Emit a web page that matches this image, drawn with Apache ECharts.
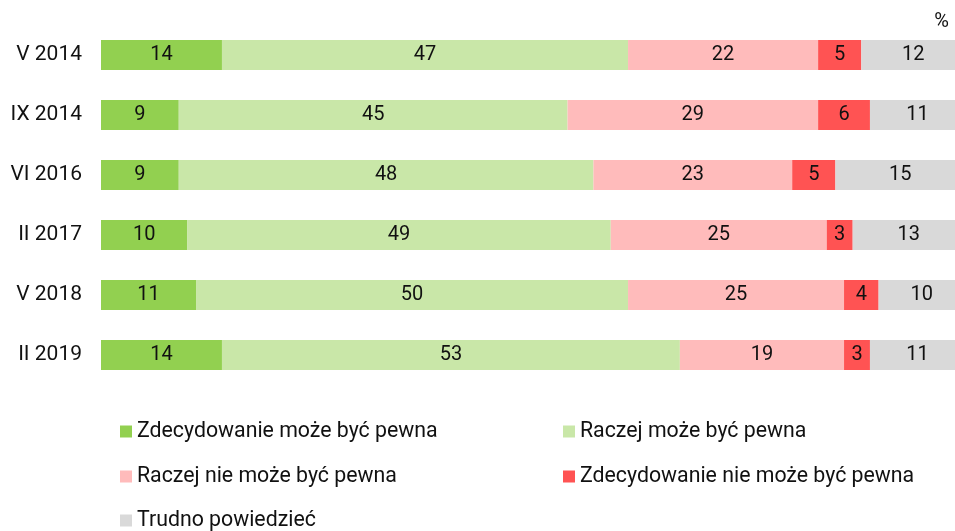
<!DOCTYPE html>
<html>
<head>
<meta charset="utf-8">
<script src="https://cdn.jsdelivr.net/npm/echarts@6/dist/echarts.min.js"></script>
<style>html,body{margin:0;padding:0;background:#fff}#c{width:955px;height:531px}</style>
</head>
<body>
<div id="c"></div>
<script>
var categories = ['V 2014', 'IX 2014', 'VI 2016', 'II 2017', 'V 2018', 'II 2019'];
var seriesNames = ['Zdecydowanie może być pewna', 'Raczej może być pewna', 'Raczej nie może być pewna', 'Zdecydowanie nie może być pewna', 'Trudno powiedzieć'];
var zdecMoze = [14, 9, 9, 10, 11, 14];
var raczejMoze = [47, 45, 48, 49, 50, 53];
var raczejNie = [22, 29, 23, 25, 25, 19];
var zdecNie = [5, 6, 5, 3, 4, 3];
var trudno = [12, 11, 15, 13, 10, 11];
var colors = ['#92D050', '#C9E7A8', '#FFBBBB', '#FF5353', '#D9D9D9'];
var values = [zdecMoze, raczejMoze, raczejNie, zdecNie, trudno];

var chart = echarts.init(document.getElementById('c'));
var font = 'Roboto';
var series = values.map(function (v, i) {
  return {
    name: seriesNames[i],
    type: 'bar',
    stack: 'total',
    barWidth: 30,
    data: v,
    itemStyle: { color: colors[i] },
    label: { show: true, position: 'inside', color: '#111', fontSize: 20, fontFamily: font },
    emphasis: { disabled: true }
  };
});
var legendPos = [
  { left: 120, top: 421 },
  { left: 563, top: 421 },
  { left: 120, top: 466 },
  { left: 563, top: 466 },
  { left: 120, top: 510 }
];
var legends = seriesNames.map(function (n, i) {
  return {
    data: [n],
    left: legendPos[i].left,
    top: legendPos[i].top,
    padding: 0,
    itemWidth: 12,
    itemHeight: 12,
    itemGap: 0,
    icon: 'rect',
    selectedMode: false,
    textStyle: { fontSize: 21.3, fontFamily: font, color: '#111', padding: [0, 0, 0, 0] }
  };
});
chart.setOption({
  animation: false,
  color: colors,
  grid: { left: 101, width: 864, top: 25, height: 360, outerBoundsMode: 'none', containLabel: false },
  legend: legends,
  xAxis: { type: 'value', min: 0, max: 100, show: false },
  yAxis: {
    type: 'category', data: categories, inverse: true,
    axisLine: { show: false }, axisTick: { show: false },
    axisLabel: { fontSize: 21, fontFamily: font, color: '#111', margin: 19 }
  },
  graphic: [{ type: 'text', right: 6, top: 12, style: { text: '%', fontSize: 20, fontFamily: font, fill: '#111' } }],
  series: series
});
</script>
</body>
</html>
